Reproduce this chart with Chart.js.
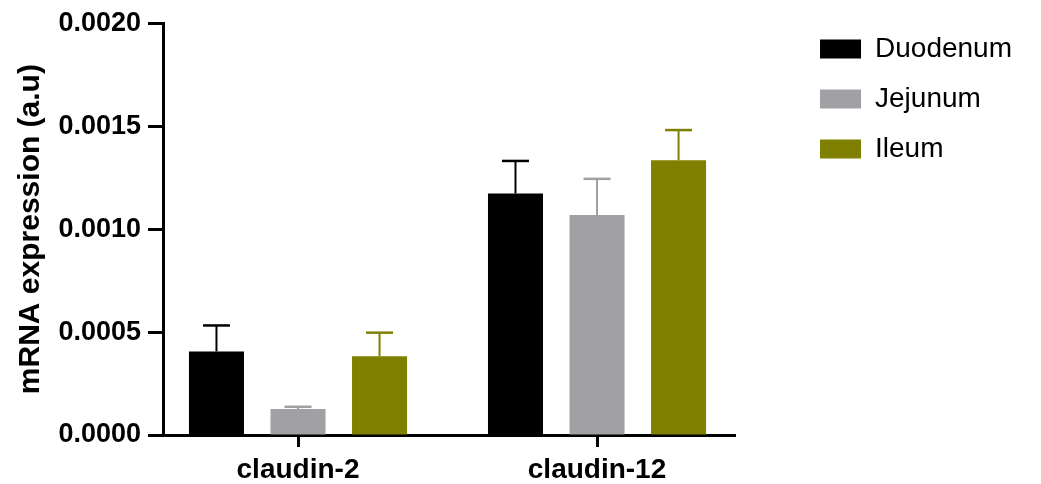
<!DOCTYPE html>
<html>
<head>
<meta charset="utf-8">
<script src="https://cdn.jsdelivr.net/npm/chart.js@4.4.1/dist/chart.umd.min.js"></script>
<style>
  body { margin: 0; background: #fff; }
  #wrap { width: 1041px; height: 484px; }
</style>
</head>
<body>
<div id="wrap"><canvas id="chart" width="1041" height="484"></canvas></div>
<script>
// values
const categories = ['claudin-2', 'claudin-12'];
const seriesNames = ['Duodenum', 'Jejunum', 'Ileum'];
const duodenum = [0.000406, 0.001173];
const jejunum = [0.000126, 0.001068];
const ileum = [0.000382, 0.001334];
const duodenumSem = [0.000126, 0.000158];
const jejunumSem = [0.000011, 0.000176];
const ileumSem = [0.000115, 0.000147];
const yTicks = [0, 0.0005, 0.0010, 0.0015, 0.0020];
const colors = ['#000000', '#a1a0a5', '#808000'];

const seriesValues = [duodenum, jejunum, ileum];
const seriesSem = [duodenumSem, jejunumSem, ileumSem];
const FONT = "'Liberation Sans', Arial, Helvetica, sans-serif";

// error bars (mean + SEM, upper only)
const errorBars = {
  id: 'errorBars',
  afterDatasetsDraw(chart) {
    const ctx = chart.ctx;
    const yScale = chart.scales.y;
    chart.data.datasets.forEach((ds, i) => {
      const meta = chart.getDatasetMeta(i);
      meta.data.forEach((bar, j) => {
        const top = yScale.getPixelForValue(seriesValues[i][j] + seriesSem[i][j]);
        ctx.save();
        ctx.strokeStyle = colors[i];
        ctx.lineWidth = 2;
        ctx.beginPath();
        ctx.moveTo(bar.x, bar.y);
        ctx.lineTo(bar.x, top);
        ctx.stroke();
        ctx.lineWidth = 2.5;
        ctx.beginPath();
        ctx.moveTo(bar.x - 13.5, top);
        ctx.lineTo(bar.x + 13.5, top);
        ctx.stroke();
        ctx.restore();
      });
    });
  }
};

new Chart(document.getElementById('chart').getContext('2d'), {
  type: 'bar',
  data: {
    datasets: seriesNames.map((name, i) => ({
      label: name,
      data: seriesValues[i].map((v, j) => ({ x: j, y: v })),
      backgroundColor: colors[i],
      borderWidth: 0,
      categoryPercentage: 0.818,
      barPercentage: 0.675
    }))
  },
  options: {
    responsive: false,
    animation: false,
    layout: { padding: { top: 22, right: 19, bottom: 0, left: 0 } },
    scales: {
      x: {
        type: 'linear',
        min: -0.4515,
        max: 1.4615,
        offset: false,
        afterBuildTicks: (scale) => { scale.ticks = categories.map((c, i) => ({ value: i })); },
        afterFit: (scale) => { scale.height = 49; },
        ticks: {
          callback: (value) => categories[value],
          color: '#000',
          font: { family: FONT, size: 28, weight: 'bold' },
          padding: 6,
          maxRotation: 0,
          autoSkip: false
        },
        grid: {
          offset: false,
          drawOnChartArea: false,
          drawTicks: true,
          tickLength: 12,
          tickWidth: 3,
          tickColor: '#000'
        },
        border: { display: true, width: 3, color: '#000' }
      },
      y: {
        min: 0,
        max: 0.002,
        afterBuildTicks: (scale) => { scale.ticks = yTicks.map(v => ({ value: v })); },
        afterFit: (scale) => { scale.width = 163; },
        ticks: {
          callback: (value) => value.toFixed(4),
          color: '#000',
          font: { family: FONT, size: 27, weight: 'bold' },
          padding: 7
        },
        grid: {
          drawOnChartArea: false,
          drawTicks: true,
          tickLength: 15,
          tickWidth: 3,
          tickColor: '#000'
        },
        border: { display: true, width: 3, color: '#000' },
        title: {
          display: true,
          text: 'mRNA expression (a.u)',
          color: '#000',
          font: { family: FONT, size: 30, weight: 'bold' },
          padding: { top: 13, bottom: 0 }
        }
      },
      // empty axis, only keeps the gap between plot and legend
      gap: {
        type: 'linear',
        position: 'right',
        afterFit: (scale) => { scale.width = 72; },
        ticks: { display: false },
        grid: { display: false },
        border: { display: false }
      }
    },
    plugins: {
      legend: {
        display: true,
        position: 'right',
        align: 'start',
        maxWidth: 300,
        labels: {
          boxWidth: 41,
          boxHeight: 19,
          padding: 13,
          color: '#000',
          font: { family: FONT, size: 28, lineHeight: 37 / 28 },
          generateLabels: (chart) => Chart.defaults.plugins.legend.labels.generateLabels(chart)
            .map(item => ({ ...item, text: [item.text], lineWidth: 0 }))
        }
      },
      tooltip: { enabled: false }
    }
  },
  plugins: [errorBars]
});
</script>
</body>
</html>
